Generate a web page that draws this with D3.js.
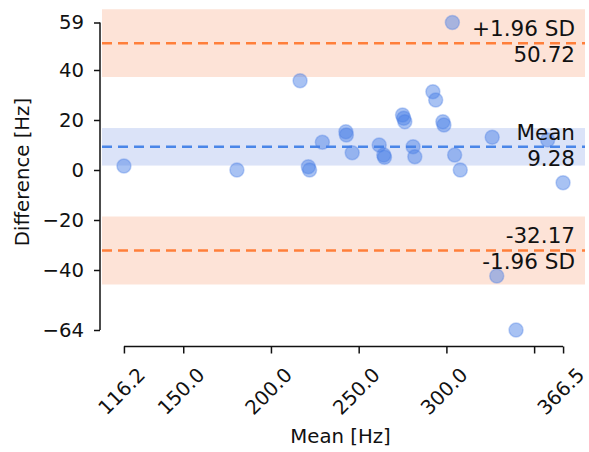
<!DOCTYPE html>
<html>
<head>
<meta charset="utf-8">
<script src="https://cdn.jsdelivr.net/npm/d3@7"></script>
<style>
    body { margin: 0; background: #fff; }
    text { font-family: "DejaVu Sans", sans-serif; fill: #111; }
</style>
</head>
<body>
<div id="chart"></div>
<script>
// Bland-Altman data: mean of the two methods vs their difference (Hz)
const meanHz = [116.2, 180.6, 216.6, 221.3, 222.0, 229.3, 242.7, 243.0, 246.3, 261.7,
    264.3, 264.7, 275.0, 275.7, 276.3, 281.0, 282.0, 292.3, 293.9, 298.0,
    298.6, 303.4, 304.7, 307.9, 326.1, 328.7, 339.7, 357.7, 366.5];
const diffHz = [1.6, 0.0, 35.7, 1.3, 0.0, 11.1, 15.3, 14.0, 6.9, 10.0,
    6.0, 5.1, 22.0, 20.7, 19.3, 9.3, 5.3, 31.3, 28.0, 19.3,
    18.0, 59.0, 6.0, 0.0, 13.1, -42.4, -64.0, 12.0, -5.1];

const xTickValues = [116.2, 150, 200, 250, 300, 350, 366.5];
const xTickLabels = ["116.2", "150.0", "200.0", "250.0", "300.0", "", "366.5"];
const yTickValues = [59, 40, 20, 0, -20, -40, -64];
const yTickLabels = ["59", "40", "20", "0", "\u221220", "\u221240", "\u221264"];

// reference lines and their confidence bands
const lineNames = ["+1.96 SD", "Mean", "-1.96 SD"];
const lineValues = [50.72, 9.28, -32.17];
const bandLow = [37.2, 1.78, -45.8];
const bandHigh = [64.3, 16.78, -18.6];

class BlandAltman {
    constructor(parentElement) {
        this.parentElement = parentElement;
        this.initVis();
    }

    initVis() {
        let vis = this;

        vis.left = 102;
        vis.right = 585;
        vis.top = 5;
        vis.bottom = 345;

        vis.svg = d3.select(`#${vis.parentElement}`)
            .append("svg")
            .attr("width", 589)
            .attr("height", 452);

        vis.xScale = d3.scaleLinear().domain([103.7, 379.0]).range([vis.left, vis.right]);
        vis.yScale = d3.scaleLinear().domain([-70, 66]).range([vis.bottom, vis.top]);

        vis.svg.append("clipPath").attr("id", "plot-clip")
            .append("rect")
            .attr("x", vis.left).attr("y", vis.top)
            .attr("width", vis.right - vis.left)
            .attr("height", vis.bottom - vis.top);

        vis.plot = vis.svg.append("g").attr("clip-path", "url(#plot-clip)");

        vis.updateVis();
    }

    updateVis() {
        let vis = this;
        const colors = ["#ff7f3a", "#4a86e8", "#ff7f3a"];
        const bandColors = ["#fde3d7", "#dbe3f8", "#fde3d7"];

        // bands
        vis.plot.selectAll(".band")
            .data(lineValues)
            .join("rect")
            .attr("class", "band")
            .attr("x", vis.left)
            .attr("width", vis.right - vis.left)
            .attr("y", (d, i) => vis.yScale(bandHigh[i]))
            .attr("height", (d, i) => vis.yScale(bandLow[i]) - vis.yScale(bandHigh[i]))
            .attr("fill", (d, i) => bandColors[i]);

        // dashed lines
        vis.plot.selectAll(".refline")
            .data(lineValues)
            .join("line")
            .attr("class", "refline")
            .attr("x1", vis.left)
            .attr("x2", vis.right)
            .attr("y1", d => vis.yScale(d))
            .attr("y2", d => vis.yScale(d))
            .attr("stroke", (d, i) => colors[i])
            .attr("stroke-width", 2.6)
            .attr("stroke-dasharray", "10,6");

        // points
        vis.plot.selectAll(".pt")
            .data(meanHz)
            .join("circle")
            .attr("class", "pt")
            .attr("cx", d => vis.xScale(d))
            .attr("cy", (d, i) => vis.yScale(diffHz[i]))
            .attr("r", 7)
            .attr("fill", "#4a7fe6")
            .attr("fill-opacity", 0.48)
            .attr("stroke", "#4a7fe6")
            .attr("stroke-opacity", 0.35)
            .attr("stroke-width", 1.5);

        // line annotations
        const labelX = 575;
        vis.svg.selectAll(".name")
            .data(lineNames)
            .join("text")
            .attr("class", "name")
            .attr("x", labelX)
            .attr("y", (d, i) => i < 2 ? vis.yScale(lineValues[i]) - 7 : vis.yScale(lineValues[i]) + 19)
            .attr("text-anchor", "end")
            .style("font-size", "21.5px")
            .text(d => d);

        vis.svg.selectAll(".val")
            .data(lineValues)
            .join("text")
            .attr("class", "val")
            .attr("x", labelX)
            .attr("y", (d, i) => i < 2 ? vis.yScale(d) + 19 : vis.yScale(d) - 7)
            .attr("text-anchor", "end")
            .style("font-size", "21.5px")
            .text(d => d.toFixed(2));

        // trimmed axes
        vis.yAxisGroup = vis.svg.append("g")
            .attr("transform", "translate(100,0)")
            .call(d3.axisLeft(vis.yScale)
                .tickValues(yTickValues)
                .tickFormat((d, i) => yTickLabels[i])
                .tickSize(6)
                .tickPadding(10)
                .tickSizeOuter(0));
        vis.yAxisGroup.select(".domain")
            .attr("d", `M0,${vis.yScale(59)}V${vis.yScale(-64)}`);

        vis.xAxisGroup = vis.svg.append("g")
            .attr("transform", "translate(0,346.5)")
            .call(d3.axisBottom(vis.xScale)
                .tickValues(xTickValues)
                .tickFormat((d, i) => xTickLabels[i])
                .tickSize(7)
                .tickSizeOuter(0));
        vis.xAxisGroup.select(".domain")
            .attr("d", `M${vis.xScale(116.2)},0H${vis.xScale(366.5)}`);

        vis.svg.selectAll(".domain, .tick line")
            .attr("stroke", "#111")
            .attr("stroke-width", 1.5);

        vis.yAxisGroup.selectAll("text")
            .style("font-size", "19.7px")
            .style("font-family", "DejaVu Sans")
            .attr("fill", "#111");

        vis.xAxisGroup.selectAll("text")
            .style("font-size", "19.7px")
            .style("font-family", "DejaVu Sans")
            .attr("fill", "#111")
            .attr("y", 0)
            .attr("dy", 0)
            .attr("text-anchor", "middle")
            .attr("dominant-baseline", "central")
            .attr("transform", "translate(-2.5,45) rotate(-45)");

        // axis titles
        vis.svg.append("text")
            .attr("x", (vis.left + vis.right) / 2 - 3)
            .attr("y", 443)
            .attr("text-anchor", "middle")
            .style("font-size", "19.7px")
            .text("Mean [Hz]");

        vis.svg.append("text")
            .attr("transform", `translate(29,${(vis.top + vis.bottom) / 2 - 3}) rotate(-90)`)
            .attr("text-anchor", "middle")
            .style("font-size", "19.7px")
            .text("Difference [Hz]");
    }
}

new BlandAltman("chart");
</script>
</body>
</html>
